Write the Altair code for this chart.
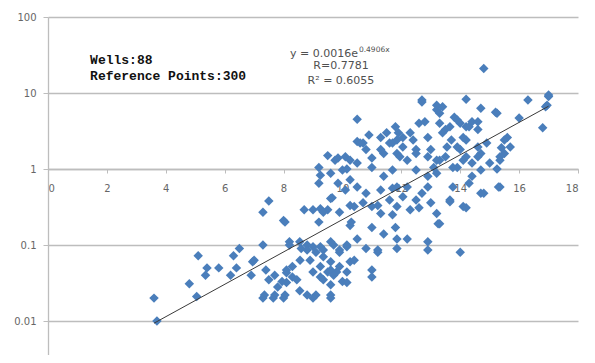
import altair as alt
import pandas as pd
import math

# ---- scatter data ----
x_vals = [
    3.6, 3.7, 5.1, 4.8, 5.05, 5.4, 5.35, 5.8, 6.2, 6.3, 6.4, 6.5, 6.9, 6.95, 7.3, 7.3, 7.5, 8.0, 7.4, 7.5,
    7.3, 7.65, 8.0, 7.8, 8.1, 8.2, 8.1, 8.3,
    8.7, 9.0, 9.25, 9.5, 9.2, 9.65, 9.9, 10.26, 10.26, 7.0, 7.7, 7.95, 8.1, 8.3, 8.56, 8.6, 8.8, 9.1, 9.25,
    9.35, 9.6, 9.7, 9.9, 10.15, 10.26, 9.0, 9.25, 9.5, 9.6, 9.8, 10.0, 10.15, 7.35, 7.7, 8.05, 8.8, 9.1, 9.6,
    8.45, 8.55,
    9.2, 10.1, 10.5, 10.8, 9.6, 9.35, 10.4, 10.7, 8.05, 10.3, 11.0, 11.3, 11.6, 11.85, 12.05, 12.3, 12.5,
    12.7, 13.0, 13.2, 13.3, 13.65, 14.1, 14.7, 15.3, 13.75, 14.3, 11.85, 11.3, 12.9, 8.2, 8.55, 8.8, 9.0,
    9.35, 9.6, 9.9, 10.15, 10.5, 10.8, 11.2, 11.85, 11.85, 12.2, 12.9, 12.9, 14.0, 8.9, 9.25, 9.6, 9.9,
    10.15, 10.4, 11.0, 11.0, 9.0, 9.6, 9.35, 9.7,
    11.0, 11.4, 11.8, 11.2, 13.25, 11.7, 11.2, 12.6, 13.65, 14.2,
    14.8, 12.7, 13.4, 14.2, 14.7, 15.25, 16.3, 17.0, 16.9, 16.0, 16.8, 10.5, 11.8, 10.9, 10.7, 12.6, 13.2,
    12.9, 13.3, 13.5, 13.8, 14.0, 14.2, 14.4, 14.6, 13.7, 13.9, 14.2, 14.6, 14.9, 15.6, 15.7, 15.5, 15.35,
    9.5, 9.75, 10.1, 10.5, 10.8, 11.0, 11.4, 11.6, 11.85, 12.05, 12.2, 12.4, 12.5, 12.3, 12.05, 11.85, 11.9,
    11.3, 11.5, 12.9, 13.1, 13.3, 13.5, 13.9, 14.2, 14.4, 14.7, 15.0, 9.2, 10.0,
    10.5, 9.85, 10.26, 10.15, 9.25, 9.6, 9.85, 10.26,
    12.7, 13.2, 13.3, 12.8, 13.9, 13.4, 13.65, 14.1, 10.6, 11.3, 11.7, 11.95, 12.5, 13.0, 13.2, 13.55, 14.0,
    11.0, 11.4, 11.7, 12.5, 12.9, 13.2, 13.75, 14.1, 12.2, 11.7,
    17.0, 16.95, 15.2, 15.5, 15.4, 15.35, 14.6, 14.3, 14.6, 15.25, 14.7, 14.4, 15.35, 14.8,
]
y_vals = [
    0.02, 0.01, 0.072, 0.031, 0.021, 0.05, 0.04, 0.05, 0.04, 0.072, 0.05, 0.09, 0.04, 0.06, 0.27, 0.1, 0.38, 0.21, 0.047, 0.035,
    0.02, 0.02, 0.02, 0.028, 0.032, 0.1, 0.047, 0.038,
    0.29, 0.29, 0.3, 0.29, 0.2, 0.42, 0.27, 0.33, 0.18, 0.063, 0.04, 0.033, 0.043, 0.052, 0.063, 0.09, 0.1, 0.08, 0.095,
    0.07, 0.06, 0.1, 0.08, 0.095, 0.06, 0.044, 0.038, 0.044, 0.03, 0.044, 0.033, 0.044, 0.022, 0.022, 0.022, 0.022, 0.022, 0.022,
    0.035, 0.025,
    0.65, 0.53, 0.58, 0.48, 0.41, 0.27, 0.32, 0.36, 0.2, 0.2, 0.32, 0.26, 0.39, 0.32, 0.43, 0.29, 0.39,
    0.48, 0.36, 0.26, 0.19, 0.39, 0.32, 0.48, 0.58, 0.58, 0.65, 0.58, 0.53, 0.58, 0.11, 0.11, 0.086, 0.095,
    0.086, 0.11, 0.086, 0.1, 0.12, 0.09, 0.086, 0.09, 0.12, 0.12, 0.11, 0.086, 0.08, 0.063, 0.052, 0.047, 0.052,
    0.032, 0.063, 0.047, 0.038, 0.02, 0.02, 0.035, 0.04,
    0.17, 0.14, 0.17, 0.08, 0.19, 0.25, 0.33, 0.31, 0.37, 0.31,
    21.0, 8.1, 6.6, 8.3, 6.3, 5.4, 8.1, 9.0, 6.6, 4.7, 3.5, 4.5, 3.6, 2.8, 2.2, 4.0, 6.0,
    2.6, 4.0, 3.3, 4.8, 4.0, 3.6, 4.2, 3.3, 2.4, 1.95, 2.4, 1.95, 2.2, 2.6, 1.95, 1.6, 1.3,
    1.5, 1.3, 1.45, 1.2, 1.8, 1.4, 1.6, 2.2, 1.6, 1.95, 1.3, 2.4, 1.8, 3.0, 2.6, 2.4, 3.0,
    2.6, 3.0, 1.45, 1.05, 1.3, 1.45, 1.05, 1.45, 1.2, 1.6, 1.2, 1.05, 0.97,
    2.3, 1.4, 1.3, 1.0, 0.83, 0.88, 0.65, 0.72,
    7.6, 6.9, 5.4, 4.2, 4.4, 3.0, 3.6, 2.6, 2.2, 1.8, 2.2, 1.45, 1.6, 1.8, 1.3, 1.95, 1.8,
    1.05, 0.8, 0.97, 0.97, 0.8, 0.88, 1.05, 1.3, 0.58, 0.56,
    9.4, 6.9, 5.6, 2.4, 1.9, 1.45, 4.2, 3.6, 1.45, 1.0, 0.97, 0.8, 0.58, 0.48,
]

# trend line y = a * exp(b x), drawn over the data range
trend_a = 0.0016
trend_b = 0.4906
trend_x = [min(x_vals), max(x_vals)]

x_ticks = [0, 2, 4, 6, 8, 10, 12, 14, 16, 18]
y_ticks = [0.01, 0.1, 1, 10, 100]

pts = pd.DataFrame({"x": x_vals, "y": y_vals})
trend = pd.DataFrame({"x": trend_x, "y": [trend_a * math.exp(trend_b * v) for v in trend_x]})

notes_left = pd.DataFrame({"x": [1.43, 1.43], "y": [24.1, 14.8],
                           "t": ["Wells:88", "Reference Points:300"]})
notes_eq = pd.DataFrame({"x": [8.22], "y": [29.8], "t": ["y = 0.0016e"]})
notes_sup = pd.DataFrame({"x": [10.56], "y": [35.0], "t": ["0.4906x"]})
notes_r = pd.DataFrame({"x": [9.95, 9.95], "y": [20.7, 13.1],
                        "t": ["R=0.7781", "R\u00b2 = 0.6055"]})

xs = alt.Scale(domain=[0, 18], nice=False, zero=False)
ys = alt.Scale(type="log", domain=[0.00357, 100], nice=False)

grid_col = "#bdbdbd"
lab_col = "#666666"

points = alt.Chart(pts).mark_point(
    shape="diamond", filled=True, size=90, color="#4A7EBB", opacity=1
).encode(
    x=alt.X("x:Q", scale=xs, axis=alt.Axis(
        values=x_ticks, grid=False, offset=-186, domainColor=grid_col, domainWidth=1.3,
        tickColor=grid_col, tickSize=4, labelPadding=10, labelColor=lab_col,
        labelFont="DejaVu Sans", labelFontSize=10, title=None)),
    y=alt.Y("y:Q", scale=ys, axis=alt.Axis(
        values=y_ticks, format="~g", grid=True, gridColor=grid_col, gridWidth=1.3,
        domainColor=grid_col, domainWidth=1.3, tickColor=grid_col, tickSize=5,
        labelPadding=7, labelColor=lab_col, labelFont="DejaVu Sans", labelFontSize=10,
        title=None)),
)

line = alt.Chart(trend).mark_line(color="#3a3a3a", strokeWidth=1).encode(
    x=alt.X("x:Q", scale=xs), y=alt.Y("y:Q", scale=ys))

t_left = alt.Chart(notes_left).mark_text(
    align="left", baseline="alphabetic", font="Liberation Mono", fontWeight="bold",
    fontSize=13, color="#111111").encode(
    x=alt.X("x:Q", scale=xs), y=alt.Y("y:Q", scale=ys), text="t:N")

t_eq = alt.Chart(notes_eq).mark_text(
    align="left", baseline="alphabetic", font="DejaVu Sans", fontSize=11, color="#505050").encode(
    x=alt.X("x:Q", scale=xs), y=alt.Y("y:Q", scale=ys), text="t:N")

t_sup = alt.Chart(notes_sup).mark_text(
    align="left", baseline="alphabetic", font="DejaVu Sans", fontSize=7.5, color="#505050").encode(
    x=alt.X("x:Q", scale=xs), y=alt.Y("y:Q", scale=ys), text="t:N")

t_r = alt.Chart(notes_r).mark_text(
    align="center", baseline="alphabetic", font="DejaVu Sans", fontSize=11, color="#505050").encode(
    x=alt.X("x:Q", scale=xs), y=alt.Y("y:Q", scale=ys), text="t:N")

chart = alt.layer(points, line, t_left, t_eq, t_sup, t_r).properties(
    width=530, height=338, autosize=alt.AutoSizeParams(type="none"),
    padding={"left": 40, "top": 9, "right": 9, "bottom": 0},
    background="white",
).configure_view(stroke=None)

chart.save("out.html", embed_options={"renderer": "svg", "actions": False})
